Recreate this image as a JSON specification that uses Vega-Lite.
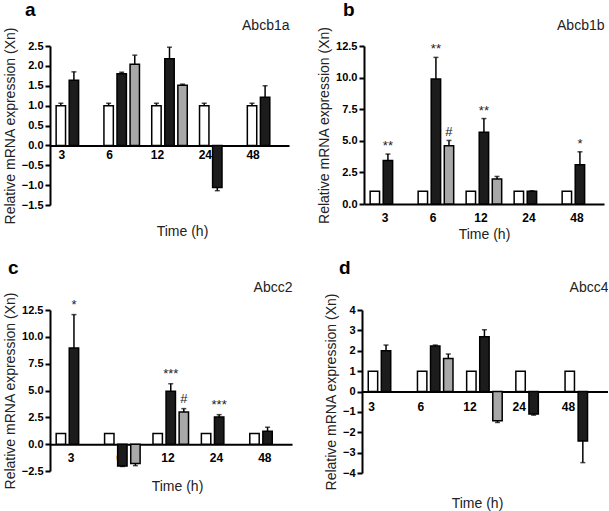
{
  "$schema": "https://vega.github.io/schema/vega-lite/v6.json",
  "padding": {"left": 3, "top": 1, "right": 0, "bottom": 0},
  "spacing": 18,
  "config": {
    "view": {"stroke": null},
    "font": "Liberation Sans",
    "axis": {
      "grid": false, "domainColor": "black", "domainWidth": 2, "tickColor": "black", "tickWidth": 2,
      "labelColor": "black", "labelFont": "Liberation Sans", "labelFontWeight": "bold", "labelFontSize": 11, "labelOverlap": false,
      "titleFont": "Liberation Sans", "titleFontWeight": "normal", "titleFontSize": 14, "titleColor": "#222"
    },
    "title": {"font": "Liberation Sans", "color": "black", "fontSize": 19, "fontWeight": "bold", "anchor": "start", "frame": "group", "offset": -2}
  },
  "datasets": {
    "a": [
      {"time": "3", "group": "Control", "value": 1.0, "top": 1.06, "sig": ""},
      {"time": "3", "group": "T1", "value": 1.64, "top": 1.85, "sig": ""},
      {"time": "6", "group": "Control", "value": 1.0, "top": 1.06, "sig": ""},
      {"time": "6", "group": "T1", "value": 1.80, "top": 1.84, "sig": ""},
      {"time": "6", "group": "T2", "value": 2.04, "top": 2.27, "sig": ""},
      {"time": "12", "group": "Control", "value": 1.0, "top": 1.06, "sig": ""},
      {"time": "12", "group": "T1", "value": 2.18, "top": 2.47, "sig": ""},
      {"time": "12", "group": "T2", "value": 1.51, "top": 1.54, "sig": ""},
      {"time": "24", "group": "Control", "value": 1.0, "top": 1.06, "sig": ""},
      {"time": "24", "group": "T1", "value": -1.06, "top": -1.14, "sig": ""},
      {"time": "48", "group": "Control", "value": 1.0, "top": 1.06, "sig": ""},
      {"time": "48", "group": "T1", "value": 1.21, "top": 1.50, "sig": ""}
    ],
    "b": [
      {"time": "3", "group": "Control", "value": 1.0, "top": null, "sig": ""},
      {"time": "3", "group": "T1", "value": 3.45, "top": 3.95, "sig": "**"},
      {"time": "6", "group": "Control", "value": 1.0, "top": null, "sig": ""},
      {"time": "6", "group": "T1", "value": 9.89, "top": 11.6, "sig": "**"},
      {"time": "6", "group": "T2", "value": 4.6, "top": 5.03, "sig": "#"},
      {"time": "12", "group": "Control", "value": 1.0, "top": null, "sig": ""},
      {"time": "12", "group": "T1", "value": 5.68, "top": 6.76, "sig": "**"},
      {"time": "12", "group": "T2", "value": 1.97, "top": 2.18, "sig": ""},
      {"time": "24", "group": "Control", "value": 1.0, "top": null, "sig": ""},
      {"time": "24", "group": "T1", "value": 1.0, "top": 1.05, "sig": ""},
      {"time": "48", "group": "Control", "value": 1.0, "top": null, "sig": ""},
      {"time": "48", "group": "T1", "value": 3.1, "top": 4.13, "sig": "*"}
    ],
    "c": [
      {"time": "3", "group": "Control", "value": 1.0, "top": null, "sig": ""},
      {"time": "3", "group": "T1", "value": 8.95, "top": 12.07, "sig": "*"},
      {"time": "6", "group": "Control", "value": 1.0, "top": null, "sig": ""},
      {"time": "6", "group": "T1", "value": -2.04, "top": -2.08, "sig": ""},
      {"time": "6", "group": "T2", "value": -1.8, "top": -2.0, "sig": ""},
      {"time": "12", "group": "Control", "value": 1.0, "top": null, "sig": ""},
      {"time": "12", "group": "T1", "value": 4.92, "top": 5.63, "sig": "***"},
      {"time": "12", "group": "T2", "value": 3.0, "top": 3.31, "sig": "#"},
      {"time": "24", "group": "Control", "value": 1.0, "top": null, "sig": ""},
      {"time": "24", "group": "T1", "value": 2.54, "top": 2.75, "sig": "***"},
      {"time": "48", "group": "Control", "value": 1.0, "top": null, "sig": ""},
      {"time": "48", "group": "T1", "value": 1.2, "top": 1.58, "sig": ""}
    ],
    "d": [
      {"time": "3", "group": "Control", "value": 1.0, "top": null, "sig": ""},
      {"time": "3", "group": "T1", "value": 2.0, "top": 2.28, "sig": ""},
      {"time": "6", "group": "Control", "value": 1.0, "top": null, "sig": ""},
      {"time": "6", "group": "T1", "value": 2.23, "top": 2.28, "sig": ""},
      {"time": "6", "group": "T2", "value": 1.62, "top": 1.84, "sig": ""},
      {"time": "12", "group": "Control", "value": 1.0, "top": null, "sig": ""},
      {"time": "12", "group": "T1", "value": 2.69, "top": 3.03, "sig": ""},
      {"time": "12", "group": "T2", "value": -1.44, "top": -1.52, "sig": ""},
      {"time": "24", "group": "Control", "value": 1.0, "top": null, "sig": ""},
      {"time": "24", "group": "T1", "value": -1.11, "top": -1.16, "sig": ""},
      {"time": "48", "group": "Control", "value": 1.0, "top": null, "sig": ""},
      {"time": "48", "group": "T1", "value": -2.43, "top": -3.49, "sig": ""}
    ]
  },
  "vconcat": [
    {
      "hconcat": [
        {
          "width": 239, "height": 159,
          "title": {"text": "a", "dx": -25},
          "data": {"name": "a"},
          "resolve": {"axis": {"x": "independent"}},
          "layer": [
            {
              "mark": {"type": "bar", "stroke": "black", "strokeWidth": 1.5},
              "encoding": {
                "x": {"field": "time", "type": "nominal", "sort": null,
                      "scale": {"domain": ["3", "6", "12", "24", "48"], "paddingInner": 0.18, "paddingOuter": 0.09},
                      "axis": {"orient": "bottom", "offset": -59.6, "ticks": false, "tickSize": 0, "labelAngle": 0, "labelPadding": 4, "labelOffset": -12, "labelFontSize": 12,
                               "title": "Time (h)", "titleY": 86, "titleX": 132, "titleBaseline": "middle"}},
                "xOffset": {"field": "group", "scale": {"domain": ["Control", "T1", "T2"], "paddingInner": 0.28, "paddingOuter": 0.14}},
                "y": {"field": "value", "type": "quantitative", "scale": {"domain": [-1.5, 2.5], "nice": false},
                      "axis": {"title": "Relative mRNA expression (Xn)", "values": [-1.5, -1, -0.5, 0, 0.5, 1, 1.5, 2, 2.5], "tickCount": 20, "format": ".1f", "tickSize": 5, "titlePadding": 4, "labelOverlap": false}},
                "fill": {"field": "group", "scale": {"domain": ["Control", "T1", "T2"], "range": ["#ffffff", "#1c1c1c", "#a8a8a8"]}, "legend": null}
              }
            },
            {
              "transform": [{"filter": "isValid(datum.top)"}],
              "mark": {"type": "rule", "color": "black", "strokeWidth": 1.5},
              "encoding": {
                "x": {"field": "time", "type": "nominal", "sort": null,
                      "axis": {"orient": "top", "domain": false, "ticks": false, "labels": false, "title": "Abcb1a", "titleAnchor": "end", "titlePadding": 14}},
                "xOffset": {"field": "group"},
                "y": {"field": "value", "type": "quantitative", "title": "Relative mRNA expression (Xn)"},
                "y2": {"field": "top"}
              }
            },
            {
              "transform": [{"filter": "isValid(datum.top)"}],
              "mark": {"type": "tick", "color": "black", "size": 5, "thickness": 1.5},
              "encoding": {
                "x": {"field": "time", "type": "nominal", "sort": null, "axis": null},
                "xOffset": {"field": "group"},
                "y": {"field": "top", "type": "quantitative", "title": "Relative mRNA expression (Xn)"}
              }
            }
          ]
        },
        {
          "width": 240, "height": 158,
          "title": {"text": "b", "dx": -21},
          "data": {"name": "b"},
          "resolve": {"axis": {"x": "independent"}},
          "layer": [
            {
              "mark": {"type": "bar", "stroke": "black", "strokeWidth": 1.5},
              "encoding": {
                "x": {"field": "time", "type": "nominal", "sort": null,
                      "scale": {"domain": ["3", "6", "12", "24", "48"], "paddingInner": 0.18, "paddingOuter": 0.09},
                      "axis": {"orient": "bottom", "ticks": false, "tickSize": 0, "labelAngle": 0, "labelPadding": 8, "labelOffset": -3, "labelFontSize": 12,
                               "title": "Time (h)", "titleY": 30, "titleBaseline": "middle"}},
                "xOffset": {"field": "group", "scale": {"domain": ["Control", "T1", "T2"], "paddingInner": 0.28, "paddingOuter": 0.14}},
                "y": {"field": "value", "type": "quantitative", "scale": {"domain": [0, 12.5], "nice": false},
                      "axis": {"title": "Relative mRNA expression (Xn)", "values": [0, 2.5, 5, 7.5, 10, 12.5], "tickCount": 20, "format": ".1f", "tickSize": 5, "titlePadding": 4, "labelOverlap": false}},
                "fill": {"field": "group", "scale": {"domain": ["Control", "T1", "T2"], "range": ["#ffffff", "#1c1c1c", "#a8a8a8"]}, "legend": null}
              }
            },
            {
              "transform": [{"filter": "isValid(datum.top)"}],
              "mark": {"type": "rule", "color": "black", "strokeWidth": 1.5},
              "encoding": {
                "x": {"field": "time", "type": "nominal", "sort": null,
                      "axis": {"orient": "top", "domain": false, "ticks": false, "labels": false, "title": "Abcb1b", "titleAnchor": "end", "titlePadding": 14}},
                "xOffset": {"field": "group"},
                "y": {"field": "value", "type": "quantitative", "title": "Relative mRNA expression (Xn)"},
                "y2": {"field": "top"}
              }
            },
            {
              "transform": [{"filter": "isValid(datum.top)"}],
              "mark": {"type": "tick", "color": "black", "size": 5, "thickness": 1.5},
              "encoding": {
                "x": {"field": "time", "type": "nominal", "sort": null, "axis": null},
                "xOffset": {"field": "group"},
                "y": {"field": "top", "type": "quantitative", "title": "Relative mRNA expression (Xn)"}
              }
            },
            {
              "transform": [{"filter": "datum.sig != ''"}],
              "mark": {"type": "text", "fontSize": 13, "baseline": "alphabetic", "dy": -4, "color": "#222"},
              "encoding": {
                "x": {"field": "time", "type": "nominal", "sort": null, "axis": null},
                "xOffset": {"field": "group"},
                "y": {"field": "top", "type": "quantitative", "title": "Relative mRNA expression (Xn)"},
                "text": {"field": "sig"}
              }
            }
          ]
        }
      ],
      "spacing": 75,
      "bounds": "flush"
    },
    {
      "hconcat": [
        {
          "width": 242, "height": 161,
          "title": {"text": "c", "dx": -42, "offset": 2},
          "data": {"name": "c"},
          "resolve": {"axis": {"x": "independent"}},
          "layer": [
            {
              "mark": {"type": "bar", "stroke": "black", "strokeWidth": 1.5},
              "encoding": {
                "x": {"field": "time", "type": "nominal", "sort": null,
                      "scale": {"domain": ["3", "6", "12", "24", "48"], "paddingInner": 0.18, "paddingOuter": 0.09},
                      "axis": {"orient": "bottom", "offset": -26.8, "ticks": false, "tickSize": 0, "labelAngle": 0, "labelPadding": 8, "labelOffset": -3, "labelFontSize": 12,
                               "title": "Time (h)", "titleY": 42, "titleX": 127, "titleBaseline": "middle"}},
                "xOffset": {"field": "group", "scale": {"domain": ["Control", "T1", "T2"], "paddingInner": 0.28, "paddingOuter": 0.14}},
                "y": {"field": "value", "type": "quantitative", "scale": {"domain": [-2.5, 12.5], "nice": false},
                      "axis": {"title": "Relative mRNA expression (Xn)", "values": [-2.5, 0, 2.5, 5, 7.5, 10, 12.5], "tickCount": 20, "format": ".1f", "tickSize": 5, "titlePadding": 4, "labelOverlap": false}},
                "fill": {"field": "group", "scale": {"domain": ["Control", "T1", "T2"], "range": ["#ffffff", "#1c1c1c", "#a8a8a8"]}, "legend": null}
              }
            },
            {
              "transform": [{"filter": "isValid(datum.top)"}],
              "mark": {"type": "rule", "color": "black", "strokeWidth": 1.5},
              "encoding": {
                "x": {"field": "time", "type": "nominal", "sort": null,
                      "axis": {"orient": "top", "domain": false, "ticks": false, "labels": false, "title": "Abcc2", "titleAnchor": "end", "titlePadding": 16}},
                "xOffset": {"field": "group"},
                "y": {"field": "value", "type": "quantitative", "title": "Relative mRNA expression (Xn)"},
                "y2": {"field": "top"}
              }
            },
            {
              "transform": [{"filter": "isValid(datum.top)"}],
              "mark": {"type": "tick", "color": "black", "size": 5, "thickness": 1.5},
              "encoding": {
                "x": {"field": "time", "type": "nominal", "sort": null, "axis": null},
                "xOffset": {"field": "group"},
                "y": {"field": "top", "type": "quantitative", "title": "Relative mRNA expression (Xn)"}
              }
            },
            {
              "transform": [{"filter": "datum.sig != ''"}],
              "mark": {"type": "text", "fontSize": 13, "baseline": "alphabetic", "dy": -6, "color": "#222"},
              "encoding": {
                "x": {"field": "time", "type": "nominal", "sort": null, "axis": null},
                "xOffset": {"field": "group"},
                "y": {"field": "top", "type": "quantitative", "title": "Relative mRNA expression (Xn)"},
                "text": {"field": "sig"}
              }
            }
          ]
        },
        {
          "width": 246, "height": 163,
          "title": {"text": "d", "dx": -23, "offset": 2},
          "data": {"name": "d"},
          "resolve": {"axis": {"x": "independent"}},
          "layer": [
            {
              "mark": {"type": "bar", "stroke": "black", "strokeWidth": 1.5},
              "encoding": {
                "x": {"field": "time", "type": "nominal", "sort": null,
                      "scale": {"domain": ["3", "6", "12", "24", "48"], "paddingInner": 0.18, "paddingOuter": 0.09},
                      "axis": {"orient": "bottom", "offset": -81.5, "ticks": false, "tickSize": 0, "labelAngle": 0, "labelPadding": 10, "labelOffset": -15, "labelFontSize": 12,
                               "title": "Time (h)", "titleY": 112, "titleX": 115, "titleBaseline": "middle"}},
                "xOffset": {"field": "group", "scale": {"domain": ["Control", "T1", "T2"], "paddingInner": 0.28, "paddingOuter": 0.14}},
                "y": {"field": "value", "type": "quantitative", "scale": {"domain": [-4, 4], "nice": false},
                      "axis": {"title": "Relative mRNA expression (Xn)", "values": [-4, -3, -2, -1, 0, 1, 2, 3, 4], "tickCount": 20, "format": "d", "tickSize": 5, "titlePadding": 4, "labelOverlap": false}},
                "fill": {"field": "group", "scale": {"domain": ["Control", "T1", "T2"], "range": ["#ffffff", "#1c1c1c", "#a8a8a8"]}, "legend": null}
              }
            },
            {
              "transform": [{"filter": "isValid(datum.top)"}],
              "mark": {"type": "rule", "color": "black", "strokeWidth": 1.5},
              "encoding": {
                "x": {"field": "time", "type": "nominal", "sort": null,
                      "axis": {"orient": "top", "domain": false, "ticks": false, "labels": false, "title": "Abcc4", "titleAnchor": "end", "titlePadding": 16}},
                "xOffset": {"field": "group"},
                "y": {"field": "value", "type": "quantitative", "title": "Relative mRNA expression (Xn)"},
                "y2": {"field": "top"}
              }
            },
            {
              "transform": [{"filter": "isValid(datum.top)"}],
              "mark": {"type": "tick", "color": "black", "size": 5, "thickness": 1.5},
              "encoding": {
                "x": {"field": "time", "type": "nominal", "sort": null, "axis": null},
                "xOffset": {"field": "group"},
                "y": {"field": "top", "type": "quantitative", "title": "Relative mRNA expression (Xn)"}
              }
            }
          ]
        }
      ],
      "spacing": 70,
      "bounds": "flush"
    }
  ]
}
